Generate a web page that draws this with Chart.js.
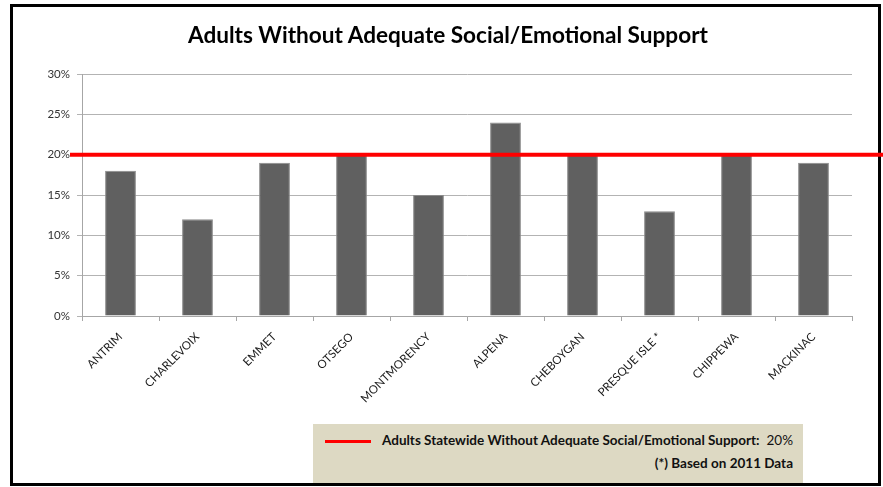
<!DOCTYPE html>
<html>
<head>
<meta charset="utf-8">
<script src="https://cdn.jsdelivr.net/npm/chart.js@4/dist/chart.umd.min.js"></script>
<style>
  html, body { margin: 0; padding: 0; background: #fff; }
  #wrap { position: relative; width: 883px; height: 487px; overflow: hidden; }
  #c { position: absolute; left: 0; top: 0; }
  #title {
    position: absolute; left: 0; width: 896px; top: 21px; text-align: center;
    font-family: Lato, "Open Sans", sans-serif; font-size: 22.6px; font-weight: bold; color: #000;
    white-space: nowrap;
  }
  #note {
    position: absolute; left: 313px; top: 424px; width: 490px; height: 59px;
    background: #ddd9c3; font-family: Lato, "Open Sans", sans-serif; font-size: 13.5px;
    color: #111; box-sizing: border-box;
  }
  #note .l1 { position: absolute; right: 10px; top: 8px; white-space: nowrap; }
  #note .l2 { position: absolute; right: 10px; top: 31px; white-space: nowrap; font-weight: bold; }
  #note .swatch { position: absolute; left: 12px; top: 16px; width: 46px; height: 3px; background: #ff0000; }
</style>
</head>
<body>
<div id="wrap">
  <canvas id="c" width="883" height="487"></canvas>
  <div id="title">Adults Without Adequate Social/Emotional Support</div>
  <div id="note">
    <div class="swatch"></div>
    <div class="l1"><b>Adults Statewide Without Adequate Social/Emotional Support:</b>&nbsp; 20%</div>
    <div class="l2">(*) Based on 2011 Data</div>
  </div>
</div>
<script>
const categories = ["ANTRIM", "CHARLEVOIX", "EMMET", "OTSEGO", "MONTMORENCY", "ALPENA", "CHEBOYGAN", "PRESQUE ISLE *", "CHIPPEWA", "MACKINAC"];
const values = [18, 12, 19, 20, 15, 24, 20, 13, 20, 19];
const statewide = 20;
const yTicks = [0, 5, 10, 15, 20, 25, 30];

const framePlugin = {
  id: 'frame',
  beforeDraw(chart) {
    const ctx = chart.ctx;
    ctx.save();
    ctx.fillStyle = '#fff';
    ctx.fillRect(0, 0, chart.width, chart.height);
    ctx.strokeStyle = '#000';
    ctx.lineWidth = 3;
    ctx.strokeRect(11.5, 5.5, 868, 479);
    ctx.restore();
  },
  afterDraw(chart) {
    const ctx = chart.ctx;
    const y = chart.scales.y.getPixelForValue(statewide);
    ctx.save();
    ctx.strokeStyle = '#ff0000';
    ctx.lineWidth = 4;
    ctx.beginPath();
    ctx.moveTo(70, y);
    ctx.lineTo(chart.width, y);
    ctx.stroke();
    ctx.restore();
  }
};

new Chart(document.getElementById('c'), {
  type: 'bar',
  data: {
    labels: categories,
    datasets: [{
      data: values,
      backgroundColor: '#606060',
      borderColor: '#8a8a8a',
      borderWidth: 1,
      categoryPercentage: 1,
      barPercentage: 0.4
    }]
  },
  options: {
    responsive: false,
    animation: false,
    devicePixelRatio: 1,
    layout: { padding: { left: 0, right: 31, top: 74, bottom: 0 } },
    plugins: {
      legend: { display: false },
      tooltip: { enabled: false },
      title: { display: false }
    },
    scales: {
      x: {
        offset: true,
        grid: { offset: true, drawOnChartArea: false, drawTicks: true, tickLength: 5, color: '#a6a6a6' },
        border: { display: true, color: '#a6a6a6' },
        ticks: {
          maxRotation: 45, minRotation: 45, autoSkip: false, padding: 9,
          color: '#1a1a1a', font: { family: 'Lato, "Open Sans", sans-serif', size: 11.5 }
        },
        afterFit(scale) { scale.height = 171; }
      },
      y: {
        min: 0, max: 30,
        afterBuildTicks(scale) { scale.ticks = yTicks.map(v => ({ value: v })); },
        grid: { color: '#b3b3b3', tickLength: 5, drawTicks: true },
        border: { display: true, color: '#a6a6a6' },
        ticks: {
          padding: 7, color: '#333',
          font: { family: 'Lato, "Open Sans", sans-serif', size: 11.5 },
          callback: v => v + '%'
        },
        afterFit(scale) { scale.width = 82; }
      }
    }
  },
  plugins: [framePlugin]
});
</script>
</body>
</html>
